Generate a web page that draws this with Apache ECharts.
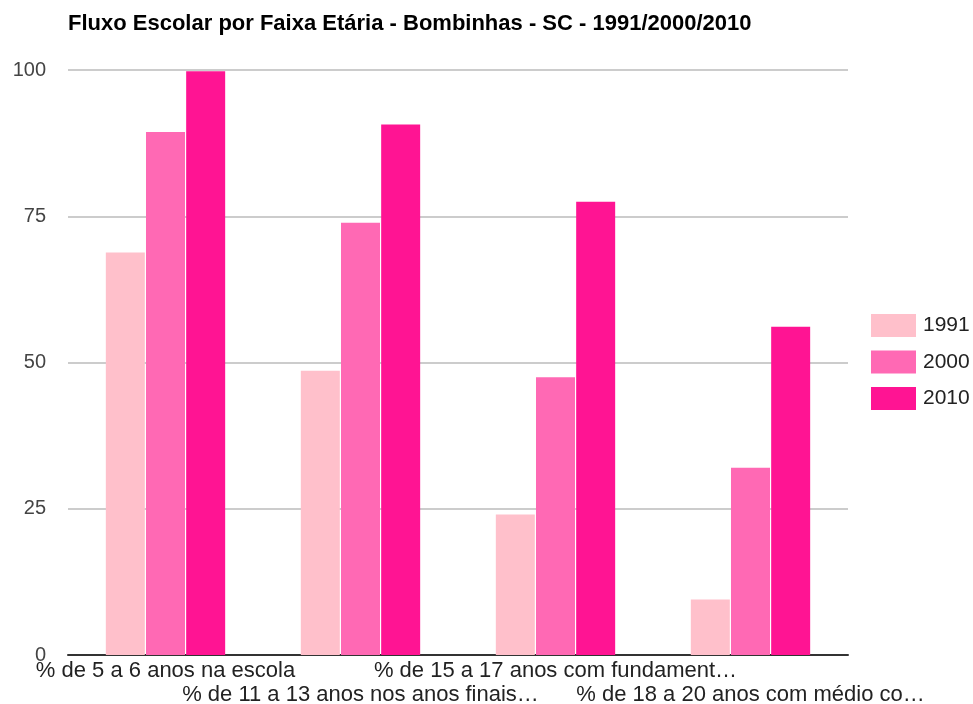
<!DOCTYPE html>
<html><head><meta charset="utf-8">
<script src="https://cdn.jsdelivr.net/npm/echarts@6/dist/echarts.min.js"></script>
<style>html,body{margin:0;padding:0;background:#fff}#c{width:973px;height:704px}</style>
</head><body><div id="c"></div>
<script>
const categories = [
  "% de 5 a 6 anos na escola",
  "% de 11 a 13 anos nos anos finais…",
  "% de 15 a 17 anos com fundament…",
  "% de 18 a 20 anos com médio co…"
];
const seriesNames = ["1991", "2000", "2010"];
const values1991 = [68.8, 48.6, 24.0, 9.5];
const values2000 = [89.4, 73.9, 47.5, 32.0];
const values2010 = [99.8, 90.7, 77.5, 56.1];
const colors = ["#FFC0CB", "#FF69B4", "#FF1493"];
const yTicks = [0, 25, 50, 75, 100];

const chart = echarts.init(document.getElementById('c'));
const font = "Liberation Sans, Arial, sans-serif";
chart.setOption({
  animation: false,
  title: {
    text: "Fluxo Escolar por Faixa Etária - Bombinhas - SC - 1991/2000/2010",
    left: 63, top: 8,
    textStyle: { fontFamily: font, fontSize: 22, fontWeight: "bold", color: "#000" }
  },
  legend: {
    orient: "vertical", left: 866, top: 309,
    itemWidth: 45, itemHeight: 23, itemGap: 13.5,
    icon: "rect",
    textStyle: { fontFamily: font, fontSize: 21, color: "#222", padding: [0, 0, 0, 2] },
    data: seriesNames
  },
  grid: { left: 68, right: 125, top: 70, bottom: 49, containLabel: false, outerBoundsMode: "none" },
  xAxis: {
    type: "category",
    data: categories,
    axisTick: { show: false },
    axisLine: { lineStyle: { color: "#333", width: 2 } },
    axisLabel: {
      interval: 0,
      fontFamily: font,
      fontSize: 22, color: "#222", margin: 4, lineHeight: 24,
      formatter: (v, i) => (i % 2 ? "\n" + v : v)
    }
  },
  yAxis: {
    type: "value", min: 0, max: 100, interval: 25,
    axisLine: { show: false }, axisTick: { show: false },
    splitLine: { lineStyle: { color: "#ccc", width: 2 } },
    axisLabel: {
      fontFamily: font, fontSize: 20, color: "#444", margin: 22,
      padding: [4, 0, 0, 0],
      formatter: v => yTicks.includes(v) ? String(v) : ""
    }
  },
  series: [values1991, values2000, values2010].map((d, i) => ({
    name: seriesNames[i], type: "bar", data: d,
    barWidth: 39, barGap: "3%",
    itemStyle: { color: colors[i] }
  }))
});
</script></body></html>
